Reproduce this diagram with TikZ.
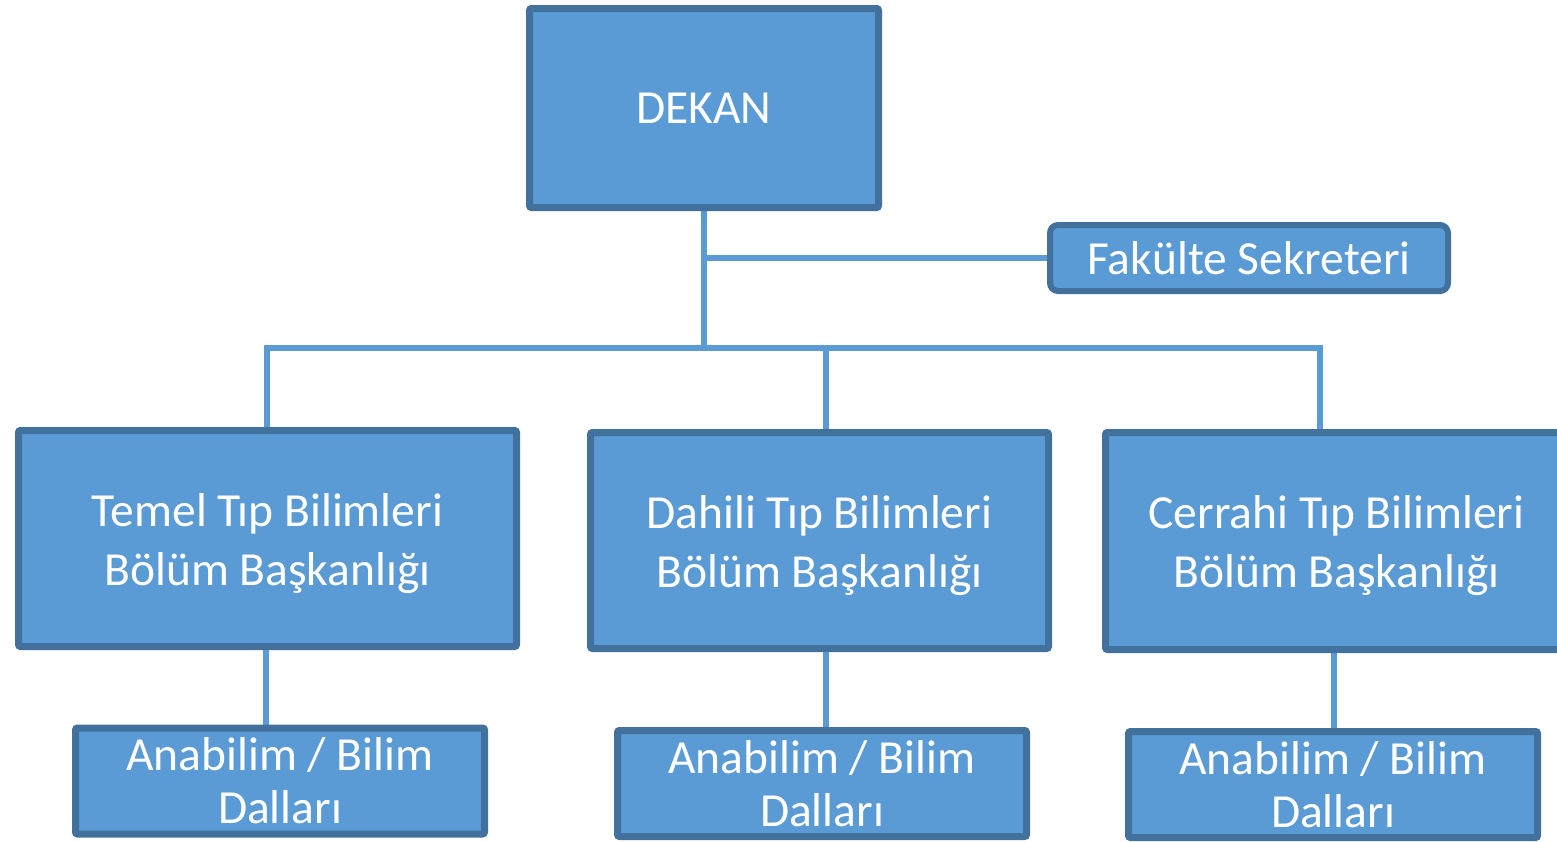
\documentclass[tikz,border=0pt]{standalone}
\usepackage{fontspec}
\setmainfont{Carlito}
\usetikzlibrary{backgrounds}
\definecolor{boxfill}{HTML}{5B9BD5}
\definecolor{boxline}{HTML}{41719C}
\newcommand{\lowertext}[1]{\raisebox{-5pt}[\height][\depth]{\parbox{420pt}{\centering #1}}}
\tikzset{
  unitbox/.style={draw=boxline, fill=boxfill, line width=7pt, rounded corners=2pt,
    inner sep=0pt, text=white, align=center,
    font=\fontsize{47.5}{59}\selectfont},
  smallbox/.style={unitbox, font=\fontsize{47.5}{53}\selectfont},
  secbox/.style={unitbox, line width=6pt, rounded corners=8pt},
  conn/.style={draw=boxfill, line width=6pt}
}
\begin{document}
\begin{tikzpicture}[x=1pt,y=-1pt]
\clip (0,0) rectangle (1557,841);
\node[unitbox, minimum width=349pt, minimum height=199pt] (dekan) at (704,108) {DEKAN};
\node[secbox, minimum width=398pt, minimum height=66pt] (sek) at (1249,258) {Fakülte Sekreteri};
\node[unitbox, minimum width=498pt, minimum height=216pt] (temel) at (267.5,538.5) {\lowertext{Temel Tıp Bilimleri\\Bölüm Başkanlığı}};
\node[unitbox, minimum width=458pt, minimum height=216pt] (dahili) at (819.5,540.5) {\lowertext{Dahili Tıp Bilimleri\\Bölüm Başkanlığı}};
\node[unitbox, minimum width=462pt, minimum height=217pt] (cerrahi) at (1336.5,541) {\lowertext{Cerrahi Tıp Bilimleri\\Bölüm Başkanlığı}};
\node[smallbox, minimum width=409pt, minimum height=106pt] (ab1) at (280,781) {Anabilim / Bilim\\Dalları};
\node[smallbox, minimum width=409pt, minimum height=106pt] (ab2) at (822,783.5) {Anabilim / Bilim\\Dalları};
\node[smallbox, minimum width=409pt, minimum height=106pt] (ab3) at (1333,784.5) {Anabilim / Bilim\\Dalları};
\coordinate (sj) at (705,258);
\coordinate (busL) at (267,348);
\coordinate (busR) at (1320,348);
\coordinate (busM) at (826,348);
\coordinate (d1) at (266,700);
\coordinate (d2) at (826,700);
\coordinate (d3) at (1334,700);
\begin{scope}[on background layer]
\draw[conn] (dekan.south) -- (dekan.south |- busL);
\draw[conn] (sj) -- (sj -| sek.west);
\draw[conn, line cap=rect] (busL) -- (busR);
\draw[conn] (busL) -- (busL |- temel.north);
\draw[conn] (busM) -- (busM |- dahili.north);
\draw[conn] (busR) -- (busR |- cerrahi.north);
\draw[conn] (d1 |- temel.south) -- (d1 |- ab1.north);
\draw[conn] (d2 |- dahili.south) -- (d2 |- ab2.north);
\draw[conn] (d3 |- cerrahi.south) -- (d3 |- ab3.north);
\end{scope}
\end{tikzpicture}
\end{document}
